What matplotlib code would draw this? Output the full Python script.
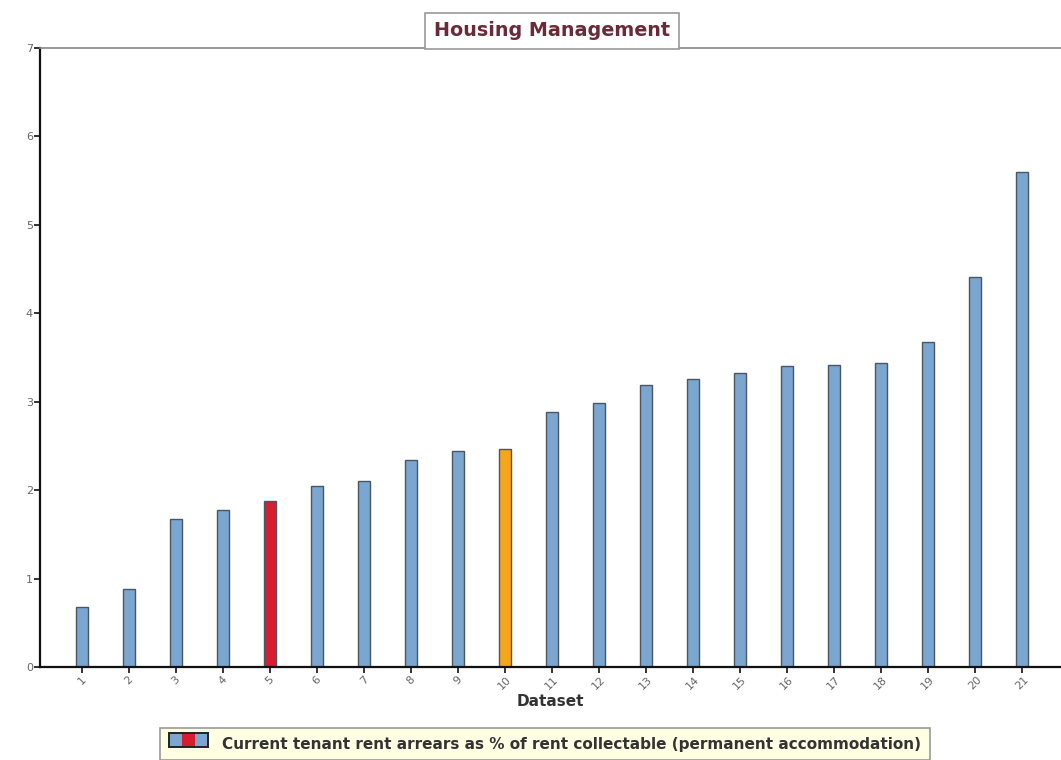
import numpy as np
import matplotlib
matplotlib.use("Agg")
import matplotlib.pyplot as plt
from matplotlib.patches import Rectangle
from matplotlib.legend_handler import HandlerBase

########################### data ############################

datasets = [str(i) for i in range(1, 22)]
values = [0.68, 0.88, 1.67, 1.78, 1.88, 2.05, 2.10, 2.34, 2.44, 2.47, 2.88,
          2.99, 3.19, 3.26, 3.32, 3.40, 3.42, 3.44, 3.68, 4.41, 5.60]
highlight_red = 5
highlight_orange = 10
series_label = "Current tenant rent arrears as % of rent collectable (permanent accommodation)"
title_text = "Housing Management"

########################### styles ############################

blue = '#7BA6D0'
red = '#D51F2E'
orange = '#F7A61C'
edge = '#4A5663'
tick_grey = '#666666'
title_colour = '#6A2A37'

plt.rcParams['font.family'] = 'DejaVu Sans'

colours = [blue] * len(values)
colours[highlight_red - 1] = red
colours[highlight_orange - 1] = orange


class StripedHandler(HandlerBase):
    # blue / red / blue swatch like the original legend key
    def create_artists(self, legend, orig_handle, xdescent, ydescent,
                       width, height, fontsize, trans):
        w = width / 3.0
        arts = []
        for i, c in enumerate([blue, red, blue]):
            r = Rectangle((xdescent + i * w, ydescent), w, height,
                          facecolor=c, edgecolor='none', transform=trans)
            arts.append(r)
        frame = Rectangle((xdescent, ydescent), width, height, facecolor='none',
                          edgecolor='#222222', linewidth=1.4, transform=trans)
        arts.append(frame)
        return arts


fig = plt.figure(figsize=(10.61, 7.60), dpi=100)
ax = fig.add_axes([40 / 1061, 1 - 667 / 760, 1 - 40 / 1061, (667 - 48) / 760])

x = np.arange(1, len(values) + 1)
bars = ax.bar(x, values, width=0.26, color=colours, edgecolor=edge, linewidth=1.0)

ax.set_xlim(0.106, 21.83)
ax.set_ylim(0, 7)

ax.spines['right'].set_visible(False)
ax.spines['top'].set_color('#888888')
ax.spines['top'].set_linewidth(1.2)
ax.spines['left'].set_color('#111111')
ax.spines['left'].set_linewidth(1.6)
ax.spines['bottom'].set_color('#111111')
ax.spines['bottom'].set_linewidth(1.6)

ax.set_xticks(x)
ax.set_xticklabels(datasets, rotation=45, ha='center', fontsize=7.5, color=tick_grey)
ax.set_yticks(range(0, 8))
ax.tick_params(axis='both', direction='out', length=4, width=1.2, color='#111111',
               labelsize=8, labelcolor=tick_grey, pad=1)

ax.set_xlabel('Dataset', fontsize=11, fontweight='bold', color='#333333', labelpad=2)

fig.text(552 / 1061, 1 - 31 / 760, title_text, ha='center', va='center',
         fontsize=13.8, fontweight='bold', color=title_colour,
         bbox=dict(boxstyle='square,pad=0.45', facecolor='white', edgecolor='#999999', linewidth=1.2))

handle = Rectangle((0, 0), 1, 1)
leg = fig.legend([handle], [series_label], handler_map={Rectangle: StripedHandler()},
                 loc='center', bbox_to_anchor=(545 / 1061, 1 - 744 / 760),
                 prop={'weight': 'bold', 'size': 11},
                 handlelength=2.6, handleheight=1.0, handletextpad=0.9,
                 borderpad=0.55, fancybox=False, framealpha=1)
for t in leg.get_texts():
    t.set_color('#333333')
frame = leg.get_frame()
frame.set_facecolor('#FFFFE3')
frame.set_edgecolor('#999999')
frame.set_linewidth(1.2)

fig.savefig('out.png', dpi=100)
